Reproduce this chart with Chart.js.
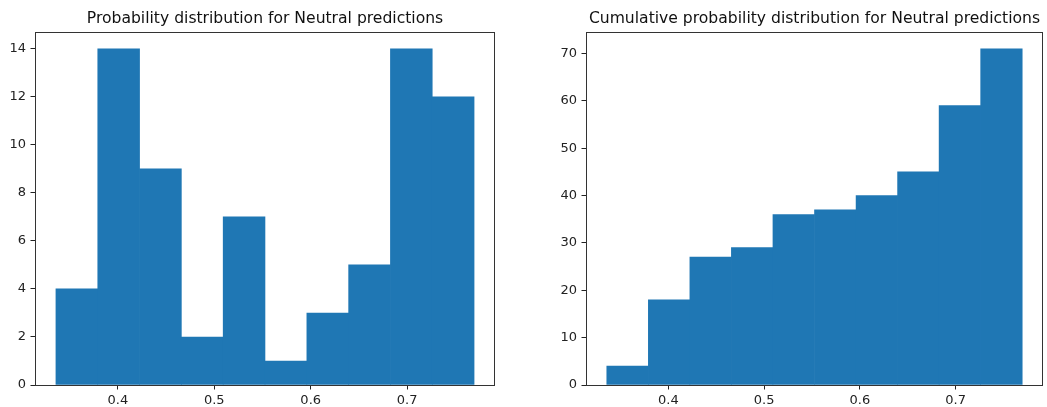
<!DOCTYPE html>
<html>
<head>
<meta charset="utf-8">
<script src="https://cdn.jsdelivr.net/npm/chart.js@4/dist/chart.umd.min.js"></script>
<style>
  html, body { margin: 0; padding: 0; background: #fff; }
  #wrap { position: relative; width: 1047px; height: 407px; }
  .panel { position: absolute; top: 0; height: 407px; }
  #p1 { left: 0; width: 520px; }
  #p2 { left: 520px; width: 527px; }
</style>
</head>
<body>
<div id="wrap">
  <div class="panel" id="p1"><canvas id="c1"></canvas></div>
  <div class="panel" id="p2"><canvas id="c2"></canvas></div>
</div>
<script>
// Histogram bins (edges) and counts of Neutral prediction probabilities
const binEdges = [0.3357, 0.3791, 0.4225, 0.4658, 0.5092, 0.5526, 0.5960, 0.6394, 0.6827, 0.7261, 0.7695];
const counts = [4, 14, 9, 2, 7, 1, 3, 5, 14, 12];
const cumulativeCounts = [4, 18, 27, 29, 36, 37, 40, 45, 59, 71];
const xTicks = [0.4, 0.5, 0.6, 0.7];
const yTicksCounts = [0, 2, 4, 6, 8, 10, 12, 14];
const yTicksCumulative = [0, 10, 20, 30, 40, 50, 60, 70];

const FONT = 'DejaVu Sans';
const BAR_COLOR = '#1f77b4';
const INK = '#222';

// Axes frame (all four spines) drawn over the bars
const framePlugin = {
  id: 'frame',
  afterDatasetsDraw(chart) {
    const { ctx, chartArea: a } = chart;
    ctx.save();
    ctx.strokeStyle = '#333';
    ctx.lineWidth = 1;
    ctx.strokeRect(Math.round(a.left) + 0.5, Math.round(a.top) + 0.5,
                   Math.round(a.right - a.left) - 1, Math.round(a.bottom - a.top));
    ctx.restore();
  }
};

function makeHistogram(canvasId, title, values, yTicks, yAxisWidth, padRight) {
  const lo = binEdges[0], hi = binEdges[binEdges.length - 1];
  const margin = (hi - lo) * 0.05;
  const points = values.map((v, i) => ({ x: (binEdges[i] + binEdges[i + 1]) / 2, y: v }));
  const yMax = Math.max(...values) * 1.05;

  return new Chart(document.getElementById(canvasId), {
    type: 'bar',
    data: {
      datasets: [{
        data: points,
        backgroundColor: BAR_COLOR,
        borderWidth: 0,
        barPercentage: 1,
        categoryPercentage: 1
      }]
    },
    options: {
      responsive: true,
      maintainAspectRatio: false,
      animation: false,
      layout: { padding: { left: 0, right: padRight, top: 0, bottom: 0 } },
      plugins: {
        legend: { display: false },
        tooltip: { enabled: false },
        title: {
          display: true,
          text: title,
          fullSize: false,
          color: '#111',
          font: { family: FONT, size: 15.6, weight: 'normal', lineHeight: 1.2 },
          padding: { top: 9.6, bottom: 3.7 }
        }
      },
      scales: {
        x: {
          type: 'linear',
          min: lo - margin,
          max: hi + margin,
          offset: false,
          afterBuildTicks(scale) { scale.ticks = xTicks.map(v => ({ value: v })); },
          afterFit(scale) { scale.height = 22; },
          border: { display: false },
          grid: { offset: false, drawOnChartArea: false, drawTicks: true, tickLength: 4.5, tickColor: INK },
          ticks: {
            color: INK,
            font: { family: FONT, size: 13 },
            padding: 3,
            maxRotation: 0,
            autoSkip: false,
            callback: v => v.toFixed(1)
          }
        },
        y: {
          min: 0,
          max: yMax,
          afterBuildTicks(scale) { scale.ticks = yTicks.map(v => ({ value: v })); },
          afterFit(scale) { scale.width = yAxisWidth; },
          border: { display: false },
          grid: { offset: false, drawOnChartArea: false, drawTicks: true, tickLength: 4.5, tickColor: INK },
          ticks: {
            color: INK,
            font: { family: FONT, size: 13 },
            padding: 4.5,
            autoSkip: false,
            callback: v => String(v)
          }
        }
      }
    },
    plugins: [framePlugin]
  });
}

makeHistogram('c1', 'Probability distribution for Neutral predictions', counts, yTicksCounts, 35, 25);
makeHistogram('c2', 'Cumulative probability distribution for Neutral predictions', cumulativeCounts, yTicksCumulative, 66, 4);
</script>
</body>
</html>
